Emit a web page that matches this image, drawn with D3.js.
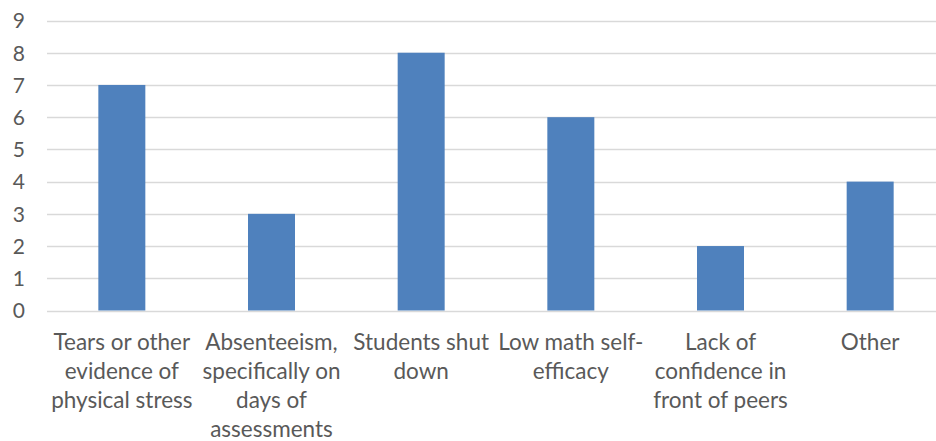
<!DOCTYPE html>
<html>
<head>
<meta charset="utf-8">
<script src="https://cdn.jsdelivr.net/npm/d3@7"></script>
<style>
  body { margin: 0; background: #fff; }
  svg text { font-family: Lato, "Open Sans", sans-serif; fill: #595959; }
</style>
</head>
<body>
<div id="chart"></div>
<script>
// Chart data
const categories = [
  "Tears or other evidence of physical stress",
  "Absenteeism, specifically on days of assessments",
  "Students shut down",
  "Low math self-efficacy",
  "Lack of confidence in front of peers",
  "Other"
];
const labelLines = [
  ["Tears or other", "evidence of", "physical stress"],
  ["Absenteeism,", "specifically on", "days of", "assessments"],
  ["Students shut", "down"],
  ["Low math self-", "efficacy"],
  ["Lack of", "confidence in", "front of peers"],
  ["Other"]
];
const counts = [7, 3, 8, 6, 2, 4];
const yTicks = [0, 1, 2, 3, 4, 5, 6, 7, 8, 9];

const width = 936, height = 441;
const plot = { left: 47, right: 945, top: 20.5, bottom: 310.5 };

const svg = d3.select("#chart").append("svg")
  .attr("width", width)
  .attr("height", height);

const x = d3.scaleBand()
  .domain(categories)
  .range([plot.left, plot.right])
  .paddingInner(0.686)
  .paddingOuter(0.343);

const y = d3.scaleLinear()
  .domain([0, 9])
  .range([plot.bottom, plot.top]);

// Gridlines
svg.append("g")
  .selectAll("line")
  .data(yTicks)
  .join("line")
  .attr("x1", plot.left)
  .attr("x2", plot.right)
  .attr("y1", d => Math.round(y(d)) + 0.5)
  .attr("y2", d => Math.round(y(d)) + 0.5)
  .attr("stroke", "#d9d9d9")
  .attr("stroke-width", 1.5);

// Y axis labels
const yAxis = svg.append("g")
  .attr("transform", `translate(${plot.left - 22},0)`)
  .call(d3.axisLeft(y).tickValues(yTicks).tickSize(0).tickPadding(0));
yAxis.select(".domain").remove();
yAxis.selectAll("text")
  .style("font-size", "21px")
  .attr("dy", "0.35em");

// Bars
svg.append("g")
  .selectAll("rect")
  .data(counts)
  .join("rect")
  .attr("x", (d, i) => x(categories[i]))
  .attr("width", x.bandwidth())
  .attr("y", d => y(d))
  .attr("height", d => y(0) - y(d))
  .attr("fill", "#4f81bd");

// Category labels
const labels = svg.append("g")
  .selectAll("text")
  .data(categories)
  .join("text")
  .attr("text-anchor", "middle")
  .style("font-size", "22.5px")
  .attr("transform", d => `translate(${x(d) + x.bandwidth() / 2},350)`);

labels.selectAll("tspan")
  .data((d, i) => labelLines[i])
  .join("tspan")
  .attr("x", 0)
  .attr("y", (d, j) => j * 29)
  .text(d => d);
</script>
</body>
</html>
